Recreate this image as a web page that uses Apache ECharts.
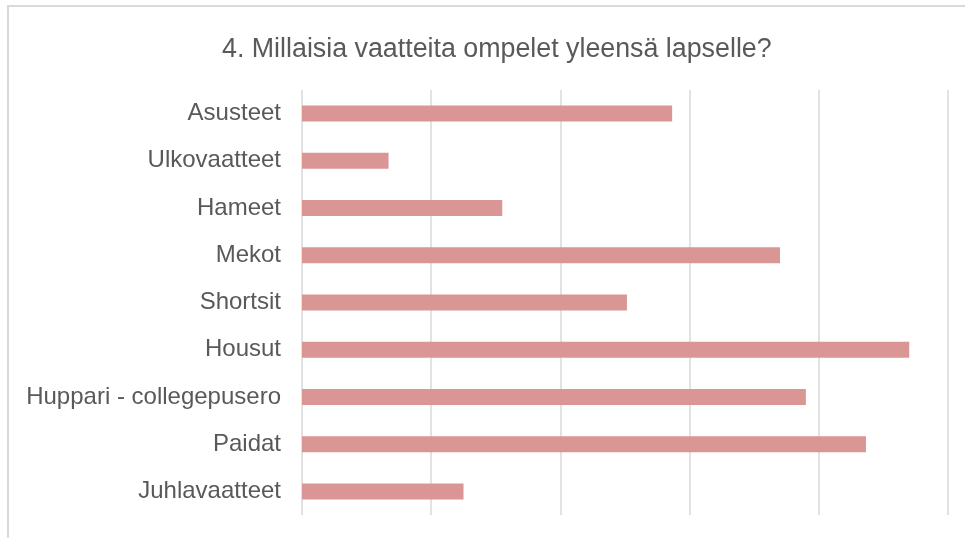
<!DOCTYPE html>
<html>
<head>
<meta charset="utf-8">
<script src="https://cdn.jsdelivr.net/npm/echarts@6/dist/echarts.min.js"></script>
<style>
  html, body { margin: 0; padding: 0; background: #fff; }
  #main { width: 965px; height: 538px; }
</style>
</head>
<body>
<div id="main"></div>
<script>
// categories listed top to bottom
var categories = ["Asusteet", "Ulkovaatteet", "Hameet", "Mekot", "Shortsit", "Housut", "Huppari - collegepusero", "Paidat", "Juhlavaatteet"];
var values = [57.3, 13.4, 31, 74, 50.3, 94, 78, 87.3, 25];
var axisMin = 0;
var axisMax = 100;
var axisStep = 20;

var myChart = echarts.init(document.getElementById("main"));
myChart.setOption({
  animation: false,
  textStyle: { fontFamily: "Liberation Sans, Arial, sans-serif" },
  graphic: [
    {
      type: "rect",
      shape: { x: 8, y: 6, width: 1000, height: 600 },
      style: { fill: "none", stroke: "#d9d9d9", lineWidth: 2 }
    }
  ],
  title: {
    text: "4. Millaisia vaatteita ompelet yleensä lapselle?",
    left: 217,
    top: 31,
    textStyle: { fontSize: 26.8, fontWeight: "normal", color: "#595959" }
  },
  grid: { left: 302, right: 17, top: 90, bottom: 23 },
  xAxis: {
    type: "value",
    min: axisMin,
    max: axisMax,
    interval: axisStep,
    axisLabel: { show: false },
    axisLine: { show: false },
    axisTick: { show: false },
    splitLine: { lineStyle: { color: "#d9d9d9", width: 1.5 } }
  },
  yAxis: {
    type: "category",
    inverse: true,
    data: categories,
    axisLine: { show: false },
    axisTick: { show: false },
    axisLabel: { fontSize: 24, color: "#595959", margin: 21 }
  },
  series: [
    {
      type: "bar",
      data: values,
      barWidth: 16,
      itemStyle: { color: "#d99694" }
    }
  ]
});
</script>
</body>
</html>
